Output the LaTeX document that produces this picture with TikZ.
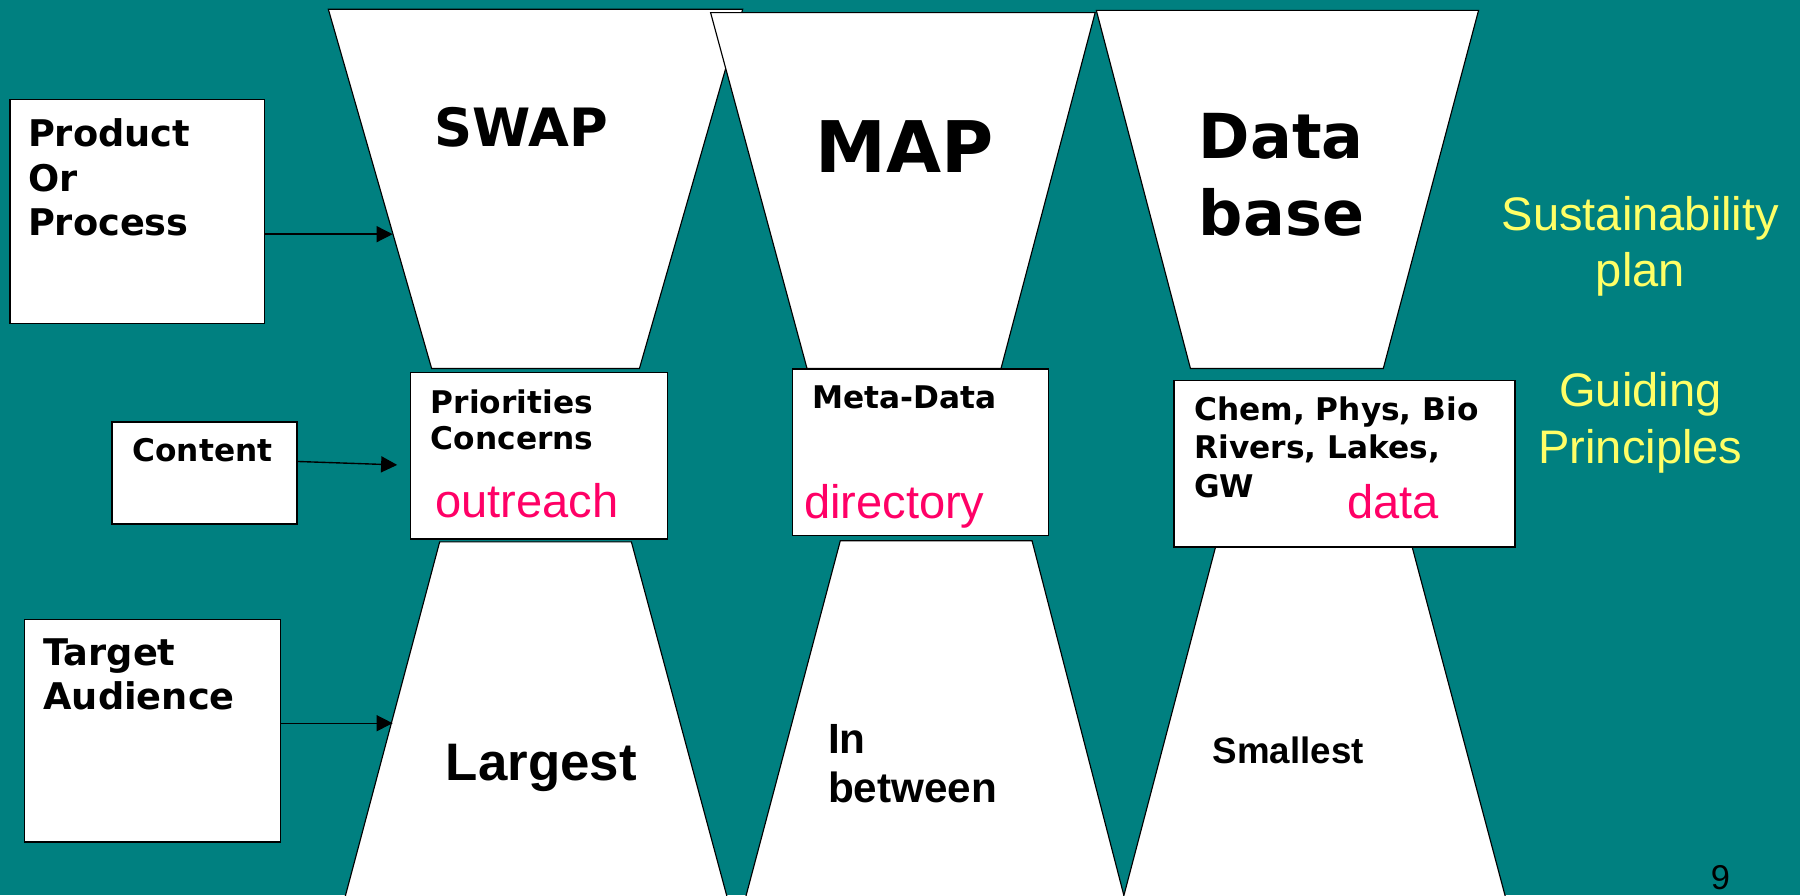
\documentclass[tikz,border=0pt]{standalone}
\usepackage{fontspec}
\setmainfont{Liberation Sans}
\newfontfamily\verd{DejaVu Sans}
\usetikzlibrary{arrows.meta}
\definecolor{bg}{RGB}{0,128,128}
\definecolor{pinktxt}{RGB}{255,0,102}
\definecolor{yeltxt}{RGB}{255,255,102}
\begin{document}
\begin{tikzpicture}[x=0.5pt,y=-0.5pt,
  box/.style={draw=black, fill=white, line width=0.6pt, inner sep=0pt, anchor=north west},
  funnel/.style={draw=black, fill=white, line width=0.5pt, line join=miter},
  arr/.style={draw=black, line width=0.6pt, -{Triangle[length=7pt,width=7pt]}},
  bigv/.style={inner sep=0pt, anchor=base west, align=left},
  lab/.style={inner sep=0pt, anchor=base west, align=left, font=\verd\bfseries\fontsize{16}{19.25}\selectfont},
  mid/.style={inner sep=0pt, anchor=base west, align=left, font=\verd\bfseries\fontsize{13.6}{16.5}\selectfont},
  pinkl/.style={inner sep=0pt, anchor=base west, text=pinktxt, font=\fontsize{20.5}{24}\selectfont},
  yel/.style={inner sep=0pt, anchor=base, align=center, text=yeltxt, font=\fontsize{20.5}{24.75}\selectfont},
  low/.style={inner sep=0pt, anchor=base west, align=left},
]
\useasboundingbox (0,0) rectangle (1568,780);
\fill[bg] (0,0) rectangle (1568,780);
\begin{scope}
\clip (0,0) rectangle (1568,780);
% top funnels
\path[funnel] (286,8) -- (647,8) -- (557,321) -- (376,321) -- cycle;
\path[funnel] (619,11) -- (954,11) -- (872,321) -- (703,321) -- cycle;
\path[funnel] (955,9) -- (1288,9) -- (1205,321) -- (1037,321) -- cycle;
% bottom funnels
\path[funnel] (383,472) -- (550,472) -- (635.7,790) -- (298.3,790) -- cycle;
\path[funnel] (732,471) -- (899,471) -- (981.6,790) -- (647.3,790) -- cycle;
\path[funnel] (1059,476) -- (1230,476) -- (1313.7,790) -- (976.4,790) -- cycle;
\end{scope}

% boxes
\node[box, minimum width=111pt, minimum height=97.5pt] (prod) at (8,86) {};
\node[box, minimum width=80.5pt, minimum height=44.5pt] (content) at (97,367) {};
\node[box, minimum width=111.5pt, minimum height=97pt] (target) at (21,539) {};
\node[box, minimum width=112pt, minimum height=72.5pt] (prio) at (357,324) {};
\node[box, minimum width=111.5pt, minimum height=72.5pt] (meta) at (690,321) {};
\node[box, minimum width=148.5pt, minimum height=72.5pt] (chem) at (1022,331) {};

% arrows
\coordinate (pa) at (342,204);
\coordinate (cs) at (258,402);
\coordinate (ca) at (346,405);
\coordinate (ta) at (342,630);
\draw[arr] (prod.east |- pa) -- (pa);
\draw[arr] (content.east |- cs) -- (ca);
\draw[arr] (target.east |- ta) -- (ta);

% texts in left boxes (base anchor = last line)
\node[lab] (tprod) at (24,205) {Product\\Or\\Process};
\node[mid] (tcont) at (115,402) {Content};
\node[lab] (ttarg) at (37.5,618) {Target\\Audience};

% funnel titles
\node[bigv, font=\verd\bfseries\fontsize{23}{27}\selectfont] (tswap) at (378,128) {SWAP};
\node[bigv, font=\verd\bfseries\fontsize{31}{36}\selectfont] (tmap) at (710,150) {MAP};
\node[bigv, font=\verd\bfseries\fontsize{27}{33.5}\selectfont] (tdb) at (1044,205) {Data\\base};

% middle box texts
\node[mid, font=\verd\bfseries\fontsize{13.6}{16}\selectfont] (tprio) at (375,392) {Priorities\\Concerns};
\node[pinkl] (tout) at (379,451) {outreach};
\node[mid] (tmeta) at (707,356) {Meta-Data};
\node[pinkl] (tdir) at (700,452) {directory};
\node[mid, font=\verd\bfseries\fontsize{13.6}{16.75}\selectfont] (tchem) at (1040,433) {Chem, Phys, Bio\\Rivers, Lakes,\\GW};
\node[pinkl] (tdata) at (1173,452) {data};

% bottom funnel texts
\node[low, font=\bfseries\fontsize{23}{27}\selectfont] (tlarg) at (388,680) {Largest};
\node[low, font=\bfseries\fontsize{18.4}{21.5}\selectfont] (tbetw) at (721,699) {In\\between};
\node[low, font=\bfseries\fontsize{16}{19}\selectfont] (tsmall) at (1056,665) {Smallest};

% right side
\node[yel] (tsust) at (1429,250) {Sustainability\\plan};
\node[yel] (tguid) at (1429,404) {Guiding\\Principles};
\node[inner sep=0pt, anchor=base west, font=\fontsize{15}{18}\selectfont] (tnum) at (1490,775) {9};
\end{tikzpicture}
\end{document}
